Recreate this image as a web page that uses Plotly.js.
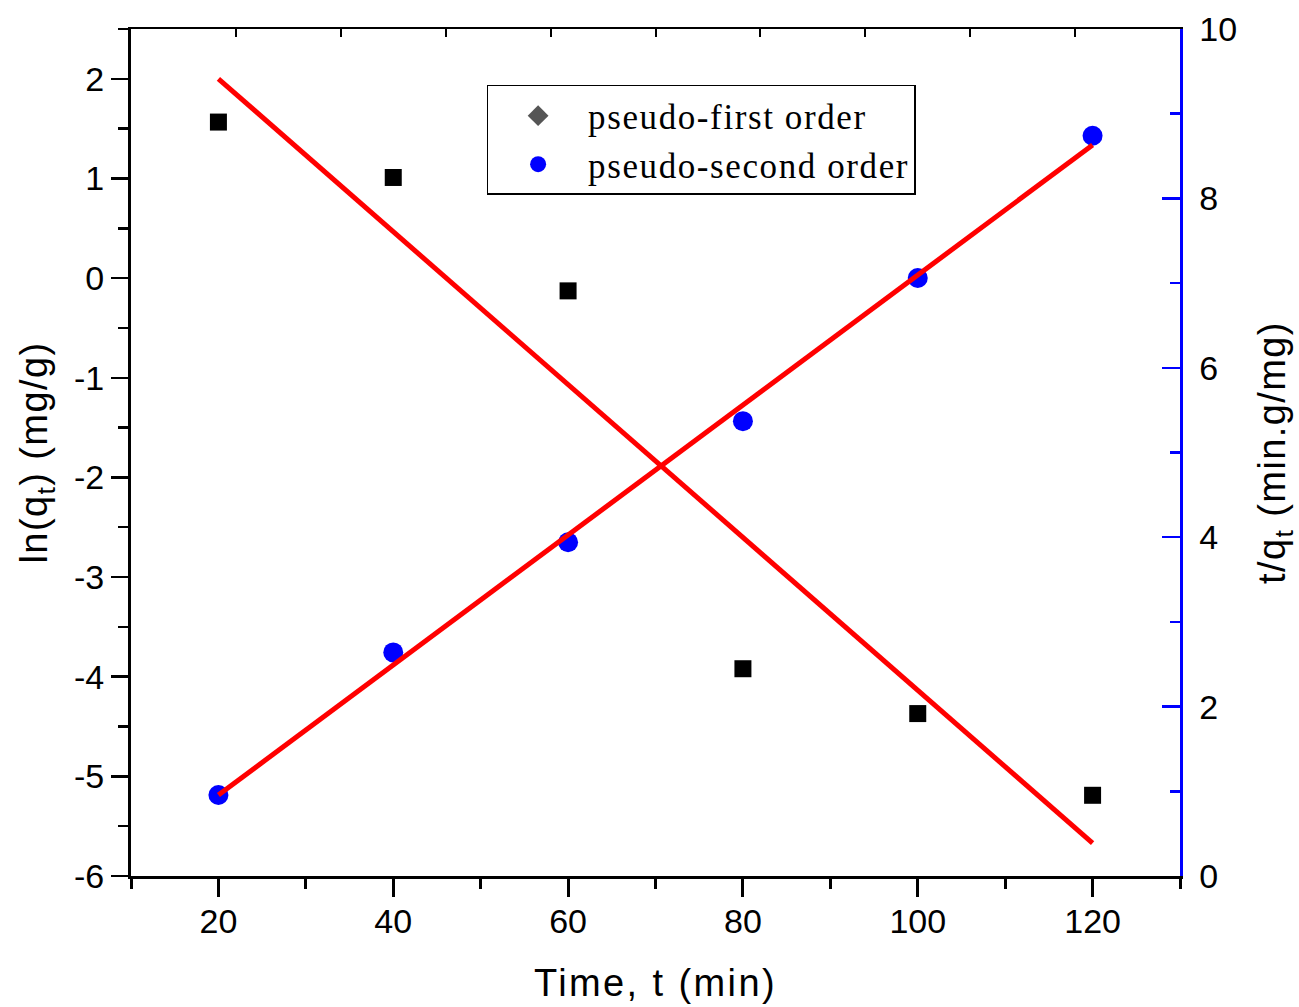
<!DOCTYPE html>
<html>
<head>
<meta charset="utf-8">
<script src="https://cdn.plot.ly/plotly-3.0.1.min.js"></script>
<style>
html,body{margin:0;padding:0;background:#fff;}
#chart{width:1299px;height:1007px;}
.legendtext{letter-spacing:1.6px;}
.xtitle{letter-spacing:2.4px;}
.ytitle, .y2title{letter-spacing:1.4px;}
</style>
</head>
<body>
<div id="chart"></div>
<script>
// Data
const time = [20, 40, 60, 80, 100, 120];
const lnQt = [1.566, 1.01, -0.128, -3.92, -4.37, -5.19];          // pseudo-first order (left axis)
const tOverQt = [0.956, 2.64, 3.94, 5.37, 7.06, 8.74];          // pseudo-second order (right axis)
const fitTime = [20, 120];
const fitFirst = [2.0, -5.67];
const fitSecond = [0.956, 8.63];
const seriesNames = ['pseudo-first order', 'pseudo-second order'];
const leftTickVals = [-6, -5, -4, -3, -2, -1, 0, 1, 2];
const leftTickText = ['-6', '-5', '-4', '-3', '-2', '-1', '0', '1', '2'];

const axisFont = {family: 'Liberation Sans, Arial, sans-serif', size: 34, color: '#000'};
const titleFont = {family: 'Liberation Sans, Arial, sans-serif', size: 38, color: '#000'};

const traces = [
  {x: time, y: lnQt, type: 'scatter', mode: 'markers', xaxis: 'x', yaxis: 'y',
   marker: {symbol: 'square', size: 17, color: '#000'}, showlegend: false, name: seriesNames[0]},
  {x: fitTime, y: fitFirst, type: 'scatter', mode: 'lines', xaxis: 'x', yaxis: 'y',
   line: {color: '#ff0000', width: 5}, showlegend: false},
  {x: time, y: tOverQt, type: 'scatter', mode: 'markers', xaxis: 'x', yaxis: 'y2',
   marker: {symbol: 'circle', size: 20, color: '#0000ff'}, showlegend: false, name: seriesNames[1]},
  {x: fitTime, y: fitSecond, type: 'scatter', mode: 'lines', xaxis: 'x', yaxis: 'y2',
   line: {color: '#ff0000', width: 5}, showlegend: false},
  // legend entries
  {x: [null], y: [null], type: 'scatter', mode: 'markers', xaxis: 'x', yaxis: 'y',
   marker: {symbol: 'diamond', size: 18, color: '#555555'}, name: seriesNames[0]},
  {x: [null], y: [null], type: 'scatter', mode: 'markers', xaxis: 'x', yaxis: 'y2',
   marker: {symbol: 'circle', size: 17, color: '#0000ff'}, name: seriesNames[1]},
  // carrier for top axis
  {x: [null], y: [null], type: 'scatter', mode: 'markers', xaxis: 'x2', yaxis: 'y', showlegend: false, hoverinfo: 'skip'}
];

const layout = {
  width: 1299, height: 1007,
  margin: {l: 131, r: 119, t: 29, b: 131},
  paper_bgcolor: '#fff', plot_bgcolor: '#fff',
  showlegend: true,
  legend: {
    x: 0.339, y: 0.934, xanchor: 'left', yanchor: 'top',
    bordercolor: '#000', borderwidth: 1.5, bgcolor: '#fff',
    font: {family: 'Liberation Serif, Times New Roman, serif', size: 35, color: '#000'},
    itemwidth: 90, tracegroupgap: 0
  },
  xaxis: {
    range: [10, 130], tickmode: 'linear', tick0: 0, dtick: 20,
    showgrid: false, zeroline: false,
    showline: true, linecolor: '#000', linewidth: 3,
    ticks: 'outside', ticklen: 18, tickwidth: 3, tickcolor: '#000',
    minor: {dtick: 10, tick0: 0, ticks: 'outside', ticklen: 10, tickwidth: 3, tickcolor: '#000'},
    tickfont: axisFont, ticklabelstandoff: -5,
    title: {text: 'Time, t (min)', font: titleFont, standoff: 31}
  },
  xaxis2: {
    overlaying: 'x', side: 'top', anchor: 'y', range: [0, 10],
    tickmode: 'linear', tick0: 0, dtick: 1,
    showgrid: false, zeroline: false, showticklabels: false,
    showline: true, linecolor: '#000', linewidth: 2,
    ticks: 'inside', ticklen: 8, tickwidth: 2, tickcolor: '#000'
  },
  yaxis: {
    range: [-6, 2.5], tickmode: 'array', tickvals: leftTickVals, ticktext: leftTickText,
    showgrid: false, zeroline: false,
    showline: true, linecolor: '#000', linewidth: 3,
    ticks: 'outside', ticklen: 17, tickwidth: 2.5, tickcolor: '#000',
    minor: {dtick: 0.5, tick0: 0, ticks: 'outside', ticklen: 10, tickwidth: 2.5, tickcolor: '#000'},
    tickfont: axisFont,
    title: {text: 'ln(q<sub>t</sub>) (mg/g)', font: titleFont, standoff: 15}
  },
  yaxis2: {
    overlaying: 'y', side: 'right', anchor: 'x', range: [0, 10],
    tickmode: 'linear', tick0: 0, dtick: 2,
    showgrid: false, zeroline: false,
    showline: true, linecolor: '#0000ff', linewidth: 2.5,
    ticks: 'inside', ticklen: 18, tickwidth: 2.5, tickcolor: '#0000ff',
    minor: {dtick: 1, tick0: 0, ticks: 'inside', ticklen: 10, tickwidth: 2.5, tickcolor: '#0000ff'},
    tickfont: axisFont, ticklabelstandoff: 10,
    title: {text: 't/q<sub>t</sub> (min.g/mg)', font: titleFont, standoff: 24}
  }
};

Plotly.newPlot('chart', traces, layout, {displayModeBar: false, staticPlot: true});
</script>
</body>
</html>
